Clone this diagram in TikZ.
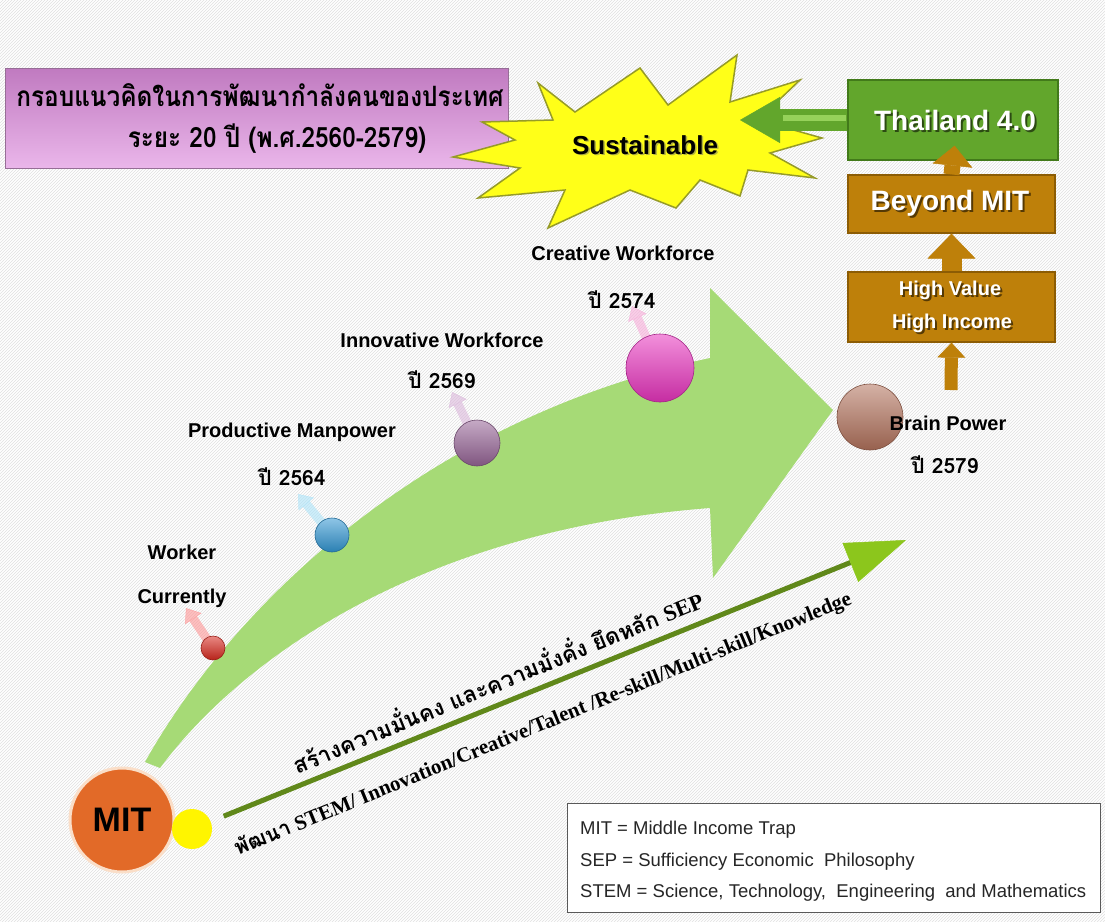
\documentclass[tikz,border=0pt]{standalone}
\usepackage{fontspec}
\setmainfont{Liberation Sans}
\newfontfamily\thaifont[Script=Thai]{Loma}
\newfontfamily\timesfont{Liberation Serif}
\usetikzlibrary{arrows.meta,calc,shadings,patterns}

\definecolor{purtop}{RGB}{192,122,192}
\definecolor{purbot}{RGB}{234,182,234}
\definecolor{purD}{RGB}{150,110,150}
\definecolor{starY}{RGB}{255,255,24}
\definecolor{starE}{RGB}{150,155,40}
\definecolor{thaiG}{RGB}{98,166,44}
\definecolor{thaiGl}{RGB}{150,210,90}
\definecolor{thaiGd}{RGB}{66,122,26}
\definecolor{goldB}{RGB}{190,128,10}
\definecolor{goldD}{RGB}{140,92,4}
\definecolor{bandG}{RGB}{166,218,118}
\definecolor{lineG}{RGB}{96,136,26}
\definecolor{headG}{RGB}{140,198,28}
\definecolor{mitO}{RGB}{226,106,40}
\definecolor{mitE}{RGB}{250,222,200}
\definecolor{dotR}{RGB}{215,40,30}
\definecolor{dotB}{RGB}{50,150,210}
\definecolor{dotP}{RGB}{150,100,150}
\definecolor{dotM}{RGB}{232,52,190}
\definecolor{dotBr}{RGB}{178,114,92}
\definecolor{yelC}{RGB}{255,245,0}

\begin{document}
\begin{tikzpicture}[x=1pt,y=-1pt,
  lbl/.style={font=\bfseries\fontsize{20}{22}\selectfont, text=black, inner sep=1pt},
  yr/.style={font={\thaifont\bfseries\fontsize{21}{23}\selectfont}, text=black, inner sep=1pt},
  headtxt/.style={font={\thaifont\bfseries\fontsize{28}{30}\selectfont}, text=black, inner sep=0pt},
  gbox/.style={rectangle, inner sep=0pt, fill=thaiG, draw=thaiGd, line width=1.2},
  goldbox/.style={rectangle, inner sep=0pt, fill=goldB, draw=goldD, line width=1.2},
  wtxt/.style={text=white, inner sep=0pt},
  stxt/.style={text=black, opacity=0.55, inner sep=0pt},
  goldarrow/.style={draw=goldB, line width=#1},
  orb/.style={circle, inner sep=0pt, top color=#1!55!white, bottom color=#1!85!black, draw=#1!70!black, line width=0.6},
  fade/.style={line width=9, opacity=0.55, draw=#1,
    -{Triangle[width=20pt,length=13pt,line width=0.5pt]}},
  legtxt/.style={font=\fontsize{18.5}{20}\selectfont, text=black!85, anchor=west, inner sep=0pt}
]
\useasboundingbox (0,0) rectangle (1105,921);
% textured backdrop
\fill[white] (0,0) rectangle (1105,921);
\fill[pattern=north east lines, pattern color=black!12] (0,0) rectangle (1105,921);

% ---- heading banner ----
\node[rectangle, minimum width=503, minimum height=100, inner sep=0pt,
      top color=purtop, bottom color=purbot, draw=purD, line width=0.8] (head) at (256.5,118) {};
\node[headtxt] (hd1) at (260,95) {\scalebox{0.87}[1]{กรอบแนวคิดในการพัฒนากำลังคนของประเทศ}};
\node[headtxt] (hd2) at (277,139) {\scalebox{0.87}[1]{ระยะ 20 ปี (พ.ศ.2560-2579)}};

% ---- starburst ----
\filldraw[fill=starY, draw=starE, line width=1.5]
  (538,83) -- (575,112) -- (640,68) -- (668,105) -- (737,55) -- (730,102)
  -- (800,80) -- (758,120) -- (822,138) -- (770,153) -- (815,178) -- (748,170)
  -- (740,196) -- (700,180) -- (676,208) -- (630,190) -- (548,228) -- (565,190)
  -- (478,198) -- (520,168) -- (453,157) -- (515,140) -- (482,122) -- (553,120) -- cycle;
\node[font=\bfseries\fontsize{26}{28}\selectfont, inner sep=0pt, text=black!60, opacity=0.5] (sustS) at (646.5,146.5) {Sustainable};
\node[font=\bfseries\fontsize{26}{28}\selectfont, inner sep=0pt] (sust) at (645,145) {Sustainable};
\coordinate (sustR) at (740,120);

% ---- right column of boxes ----
\node[gbox, minimum width=210, minimum height=80] (thai) at (953,120) {};
\node[goldbox, minimum width=207, minimum height=58] (bey) at (951.5,204) {};
\node[goldbox, minimum width=207, minimum height=70] (hv) at (951.5,307) {};

% arrow from Thailand 4.0 back to the starburst
\draw[line width=22, draw=thaiG, -{Triangle[width=46pt,length=40pt,line width=0.5pt]}] (thai.west) -- (sustR);
\draw[line width=6, draw=thaiGl] ($(thai.west)+(-1,-2)$) -- ($(thai.west)+(-64,-2)$);

% upward arrows between boxes
\coordinate (bpTop) at (951,390);
\draw[goldarrow=13, -{Triangle[width=28pt,length=15pt,line width=0.5pt]}] (bpTop) -- (hv.south);
\draw[goldarrow=20, -{Triangle[width=48pt,length=25pt,line width=0.5pt]}] (hv.north) -- (bey.south);
\draw[goldarrow=16, shorten >=-15pt, -{Triangle[width=40pt,length=20pt,line width=0.5pt]}] (bey.north) -- (thai.south);

% box captions with drop shadows
\node[stxt, font=\bfseries\fontsize{28}{30}\selectfont] (thaiS) at (957,122) {Thailand 4.0};
\node[wtxt, font=\bfseries\fontsize{28}{30}\selectfont] (thaiT) at (955,120) {Thailand 4.0};
\node[stxt, font=\bfseries\fontsize{28}{30}\selectfont] (beyS) at (952,205) {Beyond MIT};
\node[wtxt, font=\bfseries\fontsize{28}{30}\selectfont] (beyT) at (950,203) {Beyond MIT};
\node[stxt, font=\bfseries\fontsize{20}{22}\selectfont] (hv1S) at (952,292) {High Value};
\node[wtxt, font=\bfseries\fontsize{20}{22}\selectfont] (hv1) at (950,290) {High Value};
\node[stxt, font=\bfseries\fontsize{20}{22}\selectfont] (hv2S) at (954,325) {High Income};
\node[wtxt, font=\bfseries\fontsize{20}{22}\selectfont] (hv2) at (952,323) {High Income};

% ---- big curved arrow ----
\fill[bandG] (145,762) .. controls (230,610) and (420,420) .. (710,358)
  -- (710,288) -- (833,410) -- (713,578) -- (710,508)
  .. controls (420,530) and (240,660) .. (160,768) -- cycle;

% faded pointers above the milestones
\coordinate (p1) at (186,608);
\coordinate (p2) at (298,494);
\coordinate (p3) at (452,392);
\coordinate (p4) at (632,306);
\coordinate (c1pos) at (213,648);
\coordinate (c2pos) at (332,535);
\coordinate (c3pos) at (477,443);
\coordinate (c4pos) at (660,368);
\draw[fade={red!45}] (c1pos) -- (p1);
\draw[fade={cyan!35}] (c2pos) -- (p2);
\draw[fade={violet!30}] (c3pos) -- (p3);
\draw[fade={magenta!35}] (c4pos) -- (p4);

% milestones
\node[orb=dotR, minimum size=24] (c1) at (c1pos) {};
\node[orb=dotB, minimum size=34] (c2) at (c2pos) {};
\node[orb=dotP, minimum size=46] (c3) at (c3pos) {};
\node[orb=dotM, minimum size=68] (c4) at (c4pos) {};
\node[orb=dotBr, minimum size=66] (c5) at (870,417) {};

\node[lbl] (l1a) at (182,552) {Worker};
\node[lbl] (l1b) at (182,598) {Currently};
\node[lbl] (l2a) at (292,432) {Productive Manpower};
\node[yr]  (l2b) at (292,477) {ปี 2564};
\node[lbl] (l3a) at (442,340) {Innovative Workforce};
\node[yr]  (l3b) at (442,380) {ปี 2569};
\node[lbl] (l4a) at (623,253) {Creative Workforce};
\node[yr]  (l4b) at (622,300) {ปี 2574};
\node[lbl] (l5a) at (948,423) {Brain Power};
\node[yr]  (l5b) at (945,465) {ปี 2579};

% ---- starting point ----
\node[circle, inner sep=0pt, fill=mitO, draw=mitE, line width=3, minimum size=104,
      font=\bfseries\fontsize{34}{36}\selectfont] (mit) at (122,820) {MIT};
\node[circle, inner sep=0pt, fill=yelC, minimum size=40] (yel) at (192,829) {};

% ---- straight development arrow ----
\coordinate (tipT) at (906,540);
\draw[line width=5, draw=lineG, shorten <=14pt,
      -{Triangle[width=42pt,length=60pt,line width=0.5pt,color=headG,fill=headG]}] (yel) -- (tipT);
\node[rotate=22.3, inner sep=0pt, font={\fontsize{22.5}{24}\selectfont}] (sepT) at (497,680)
  {{\thaifont\bfseries สร้างความมั่นคง และความมั่งคั่ง ยึดหลัก} {\timesfont\bfseries SEP}};
\node[rotate=22.3, inner sep=0pt, font={\fontsize{21}{23}\selectfont}] (stemT) at (543,724)
  {{\thaifont\bfseries พัฒนา} {\timesfont\bfseries STEM/ Innovation/Creative/Talent /Re-skill/Multi-skill/Knowledge}};

% ---- legend ----
\node[rectangle, draw=black!65, fill=white, line width=1, minimum width=533, minimum height=109, inner sep=0pt] (leg) at (833.5,857.5) {};
\node[legtxt] (lg1) at (580,830) {MIT = Middle Income Trap};
\node[legtxt] (lg2) at (580,862) {SEP = Sufficiency Economic\ \ Philosophy};
\node[legtxt] (lg3) at (580,893) {STEM = Science, Technology,\ \ Engineering\ \ and Mathematics};
\end{tikzpicture}
\end{document}
